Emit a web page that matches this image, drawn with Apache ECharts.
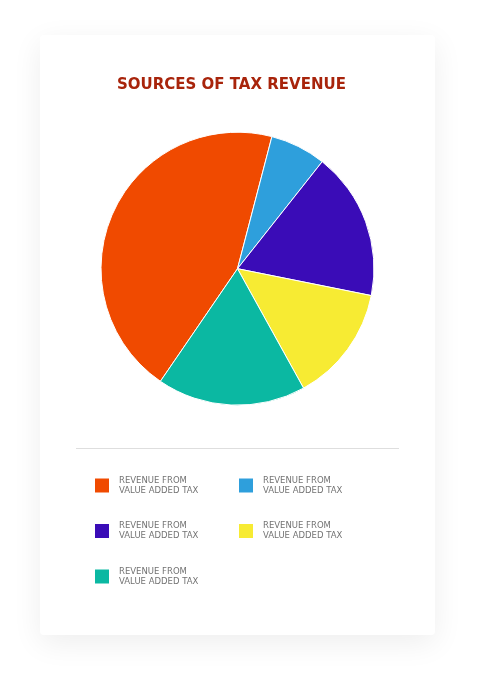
<!DOCTYPE html>
<html>
<head>
<meta charset="utf-8">
<script src="https://cdn.jsdelivr.net/npm/echarts@6/dist/echarts.min.js"></script>
<style>
    html, body { margin: 0; padding: 0; background: #fff; }
    #card {
        position: absolute; left: 40px; top: 35px; width: 395px; height: 600px;
        background: #fff; border-radius: 4px;
        box-shadow: 0 8px 30px rgba(0, 0, 0, 0.07);
    }
    #chart { position: absolute; left: 0; top: 0; width: 485px; height: 691px; }
</style>
</head>
<body>
<div id="card"></div>
<div id="chart"></div>
<script>
// 每块扇区的名字（图例文字都一样，所以名字只用来区分）
const sources = ['vat-1', 'vat-2', 'vat-3', 'vat-4', 'vat-5']
const shares = [44.5, 6.6, 17.5, 13.8, 17.6]
const colors = ['#f04a00', '#2e9fdc', '#3a0cb7', '#f7eb33', '#0bb8a2']
const legendText = 'REVENUE FROM\nVALUE ADDED TAX'

const leftColumn = [sources[0], sources[2], sources[4]]
const rightColumn = [sources[1], sources[3]]

const legendBase = {
    orient: 'vertical',
    top: 475.5,
    padding: 0,
    itemWidth: 14,
    itemHeight: 14,
    itemGap: 25.5,
    icon: 'rect',
    itemStyle: { borderWidth: 0 },
    formatter: () => legendText,
    textStyle: {
        fontFamily: 'DejaVu Sans',
        fontSize: 8.5,
        lineHeight: 10,
        color: '#737373',
        padding: [0, 0, 0, 5]
    }
}

const chart = echarts.init(document.getElementById('chart'))
chart.setOption({
    animation: false,
    color: colors,
    title: {
        text: 'SOURCES OF TAX REVENUE',
        left: 117,
        top: 78,
        padding: 0,
        textStyle: {
            fontFamily: 'DejaVu Sans',
            fontWeight: 'bold',
            fontSize: 15,
            color: '#a8240b'
        }
    },
    legend: [
        Object.assign({}, legendBase, { left: 95, data: leftColumn }),
        Object.assign({}, legendBase, { left: 239, data: rightColumn })
    ],
    graphic: [{
        type: 'line',
        shape: { x1: 76, y1: 448.5, x2: 399, y2: 448.5 },
        style: { stroke: '#dedede', lineWidth: 1 }
    }],
    series: [{
        type: 'pie',
        center: [237.5, 268.7],
        radius: 136.5,
        startAngle: 235.6,
        label: { show: false },
        labelLine: { show: false },
        itemStyle: { borderColor: '#fff', borderWidth: 1 },
        data: sources.map((name, i) => ({ name, value: shares[i] }))
    }]
})
</script>
</body>
</html>
